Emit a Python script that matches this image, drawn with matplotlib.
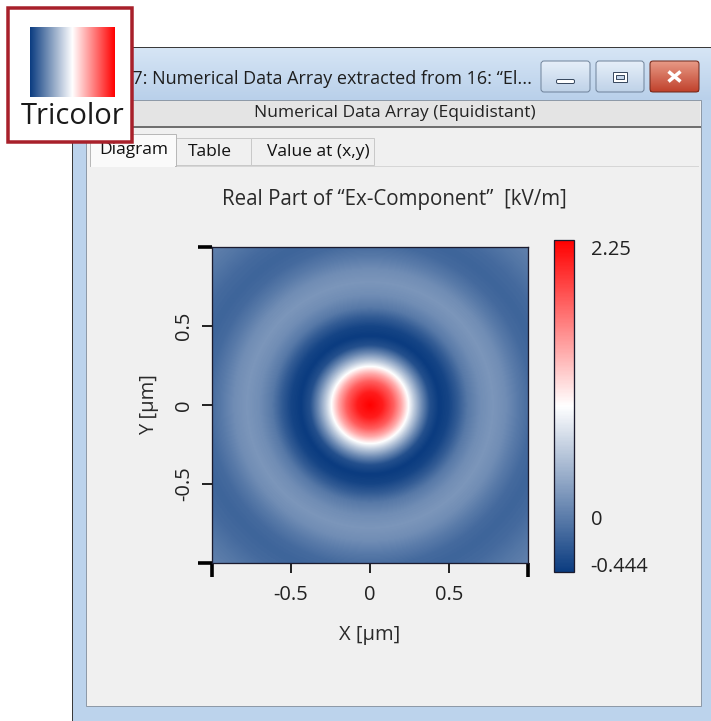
import numpy as np
import matplotlib
matplotlib.use('Agg')
import matplotlib.pyplot as plt
from matplotlib.colors import LinearSegmentedColormap
from matplotlib.patches import Rectangle, FancyBboxPatch

# ---------------- data ----------------
radius_um = [0.0, 0.08, 0.15, 0.20, 0.24, 0.28, 0.33, 0.38, 0.44, 0.50,
             0.56, 0.62, 0.70, 0.78, 0.86, 0.94, 1.02, 1.10, 1.20, 1.30, 1.42]
field_kvm = [2.25, 2.10, 1.75, 1.35, 0.95, 0.55, 0.10, -0.30, -0.444, -0.38,
             -0.22, -0.02, 0.12, 0.18, 0.12, -0.01, -0.12, -0.16, -0.12, -0.04, 0.04]
x_range = [-1.0, 1.0]
y_range = [-1.0, 1.0]
x_ticks = [-0.5, 0.0, 0.5]
x_tick_labels = ['-0.5', '0', '0.5']
y_ticks = [-0.5, 0.0, 0.5]
y_tick_labels = ['-0.5', '0', '0.5']
edge_ticks = [-1.0, 1.0]
cbar_ticks = [-0.444, 0.0, 2.25]
cbar_tick_labels = ['-0.444', '0', '2.25']
vmin, vmax = -0.444, 2.25
chart_title = 'Real Part of \u201cEx-Component\u201d  [kV/m]'
x_label = 'X [\u00b5m]'
y_label = 'Y [\u00b5m]'
window_title = '17: Numerical Data Array extracted from 16: \u201cEl...'
sub_title = 'Numerical Data Array (Equidistant)'
tabs = ['Diagram', 'Table', 'Value at (x,y)']
badge_text = 'Tricolor'

plt.rcParams['font.family'] = ['Open Sans', 'DejaVu Sans']

W, H = 711, 721
PX = 0.72  # points per pixel
fig = plt.figure(figsize=(W / 100, H / 100), dpi=100)
fig.patch.set_facecolor('white')

def fpos(x0, y0, x1, y1):
    return [x0 / W, 1 - y1 / H, (x1 - x0) / W, (y1 - y0) / H]

cmap = LinearSegmentedColormap.from_list(
    'tricolor', [(0.0, '#0b3c80'), (0.5, '#ffffff'), (1.0, '#ff0000')])

# ---------------- window chrome (background axes in pixels) ----------------
bg = fig.add_axes([0, 0, 1, 1])
bg.set_axis_off()

def rect(x0, y0, x1, y1, fc, ec='none', lw=0, z=1, **kw):
    bg.add_patch(Rectangle((x0, y0), x1 - x0, y1 - y0, facecolor=fc,
                           edgecolor=ec, linewidth=lw * PX, zorder=z, **kw))

def vgrad(x0, y0, x1, y1, c_top, c_bot, z=1):
    t = np.linspace(0, 1, 64)[:, None]
    a = np.array(matplotlib.colors.to_rgb(c_top))
    b = np.array(matplotlib.colors.to_rgb(c_bot))
    img = (a[None, None, :] * (1 - t[..., None]) + b[None, None, :] * t[..., None])
    img = np.repeat(img, 2, axis=1)
    bg.imshow(img, extent=[x0, x1, y1, y0], aspect='auto', zorder=z,
              interpolation='bilinear')

# window frame
rect(72, 47, 711, 721, '#bcd3ec', ec='#3a3a3a', lw=1, z=1)
vgrad(73, 48, 711, 100, '#d6e5f5', '#b9d0ea', z=1.5)
# content
rect(86, 100, 701, 706, '#f0f0f0', ec='#8e9aa8', lw=1, z=2)
# subheader bar
rect(87, 101, 700, 126, '#e4e4e4', z=2.2)
bg.plot([87, 700], [127, 127], color='#6f6f6f', lw=2 * PX, zorder=2.3)
bg.text(395, 113, sub_title, ha='center', va='center', fontsize=12.5,
        color='#222222', zorder=3)
# tabs
rect(250, 138, 374, 165, '#f0f0f0', ec='#c9c9c9', lw=1, z=2.4)
rect(176, 138, 251, 165, '#f0f0f0', ec='#c9c9c9', lw=1, z=2.4)
rect(90, 134, 176, 166, '#fafafa', ec='#b8b8b8', lw=1, z=2.5)
bg.plot([90, 698], [165.5, 165.5], color='#d6d6d6', lw=1 * PX, zorder=2.45)
rect(91, 165, 175, 167, '#fafafa', z=2.6)
bg.text(134, 150, tabs[0], ha='center', va='center', fontsize=12.5,
        color='#111111', zorder=3)
bg.text(210, 152, tabs[1], ha='center', va='center', fontsize=12.5,
        color='#111111', zorder=3)
bg.text(318, 152, tabs[2], ha='center', va='center', fontsize=12.5,
        color='#111111', zorder=3)

# title text
bg.text(122, 79, window_title, ha='left', va='center', fontsize=13,
        color='#1e1e1e', zorder=3)

# buttons
def button(x0, x1, top, bot, kind):
    if kind == 'close':
        vgrad(x0, top, x1, bot, '#e89a86', '#c0412c', z=3)
        ec = '#6e2a1e'
    else:
        vgrad(x0, top, x1, bot, '#e6eff9', '#bfd2e8', z=3)
        ec = '#70849c'
    bg.add_patch(FancyBboxPatch((x0, top), x1 - x0, bot - top,
                                boxstyle='round,pad=0,rounding_size=3',
                                facecolor='none', edgecolor=ec,
                                linewidth=1 * PX, zorder=3.2))
    cx = (x0 + x1) / 2
    cy = (top + bot) / 2
    if kind == 'min':
        bg.add_patch(FancyBboxPatch((cx - 9, cy + 3), 18, 4,
                                    boxstyle='round,pad=0,rounding_size=1.5',
                                    facecolor='#ffffff', edgecolor='#3a4a60',
                                    linewidth=1 * PX, zorder=3.3))
    elif kind == 'max':
        rect(cx - 7, cy - 5, cx + 7, cy + 5, '#ffffff', ec='#3a4a60', lw=1, z=3.3)
        rect(cx - 4, cy - 2, cx + 4, cy + 2, '#c6d6ea', ec='#3a4a60', lw=1, z=3.4)
    else:
        bg.plot([cx - 6, cx + 6], [cy - 5, cy + 5], color='#ffffff',
                lw=3.5 * PX, zorder=3.4, solid_capstyle='butt')
        bg.plot([cx - 6, cx + 6], [cy + 5, cy - 5], color='#ffffff',
                lw=3.5 * PX, zorder=3.4, solid_capstyle='butt')

button(541, 590, 61, 92, 'min')
button(596, 644, 61, 92, 'max')
button(650, 699, 61, 92, 'close')

# badge
rect(8, 8, 132, 142, '#ffffff', ec='#a8202a', lw=3.5, z=10)
grad = np.linspace(0, 1, 256)[None, :]
bg.imshow(grad, cmap=cmap, extent=[30, 115, 97, 27], aspect='auto', zorder=11)
bg.text(73, 117, badge_text, ha='center', va='center', fontsize=21,
        color='#1a1a1a', zorder=12)

bg.set_xlim(0, W)
bg.set_ylim(H, 0)

# ---------------- heatmap ----------------
ax = fig.add_axes(fpos(212, 247, 528, 563))
xs = np.linspace(x_range[0], x_range[1], 321)
ys = np.linspace(y_range[0], y_range[1], 321)
XX, YY = np.meshgrid(xs, ys)
RR = np.hypot(XX, YY)
field = np.interp(RR, radius_um, field_kvm)
im = ax.imshow(field, extent=[x_range[0], x_range[1], y_range[0], y_range[1]],
               origin='lower', cmap=cmap, vmin=vmin, vmax=vmax,
               interpolation='bilinear', aspect='auto')
ax.set_xlim(x_range)
ax.set_ylim(y_range)
for s in ax.spines.values():
    s.set_color('#1b1b2e')
    s.set_linewidth(1 * PX * 1.3)
ax.set_xticks(x_ticks)
ax.set_xticklabels(x_tick_labels)
ax.set_yticks(y_ticks)
ax.set_yticklabels(y_tick_labels, rotation=90, va='center')
ax.set_xticks(edge_ticks, minor=True)
ax.set_yticks(edge_ticks, minor=True)
ax.tick_params(which='major', length=7, width=1.3, color='#111111',
               labelsize=14.5, labelcolor='#222222')
ax.tick_params(axis='x', which='major', pad=9)
ax.tick_params(axis='y', which='major', pad=6)
ax.tick_params(which='minor', length=10, width=2.6, color='#000000')
ax.set_title(chart_title, fontsize=14.8, color='#2a2a2a', pad=30,
             x=(394 - 212) / 316)
ax.set_xlabel(x_label, fontsize=14.5, color='#2a2a2a', labelpad=14.5)
ax.set_ylabel(y_label, fontsize=14.5, color='#2a2a2a', labelpad=11)
ax.set_facecolor('#f0f0f0')

# ---------------- colorbar ----------------
cax = fig.add_axes(fpos(554, 240, 574, 572))
cb = fig.colorbar(im, cax=cax, ticks=cbar_ticks)
cb.set_ticklabels(cbar_tick_labels)
cb.outline.set_edgecolor('#1b1b2e')
cb.outline.set_linewidth(1.3 * PX)
cax.tick_params(length=0, labelsize=14.5, labelcolor='#222222', pad=12)
labs = cax.get_yticklabels()
labs[0].set_va('baseline')
labs[2].set_va('top')

fig.savefig('out.png', dpi=100, facecolor='white')
